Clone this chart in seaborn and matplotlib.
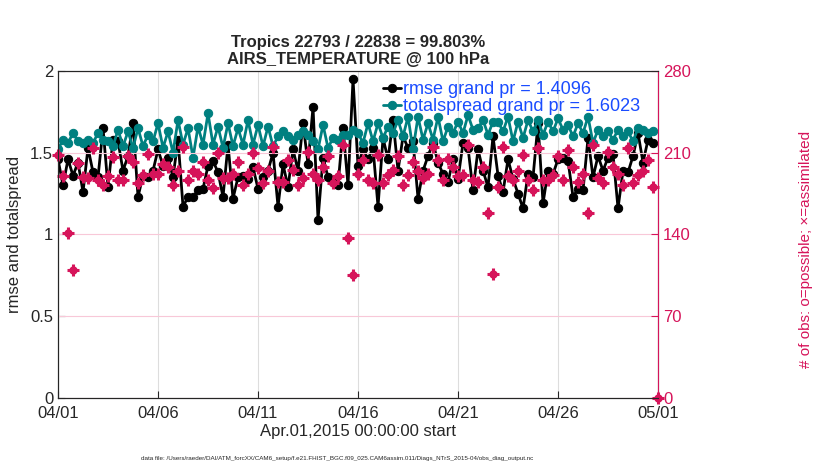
import numpy as np
import pandas as pd
import matplotlib
matplotlib.use('Agg')
import matplotlib.pyplot as plt
import matplotlib.dates as mdates
import seaborn as sns

# values, one per 6-hour bin (last bin is empty)
rmse = [1.46, 1.30, 1.46, 1.36, 1.44, 1.26, 1.53, 1.38, 1.35, 1.65, 1.29, 1.58, 1.57, 1.39, 1.48, 1.68, 1.23, 1.36, 1.35, 1.39,
        1.52, 1.42, 1.47, 1.35, 1.58, 1.17, 1.23, 1.23, 1.27, 1.28, 1.42, 1.45, 1.38, 1.23, 1.55, 1.22, 1.35, 1.36, 1.34, 1.41,
        1.28, 1.35, 1.39, 1.50, 1.17, 1.43, 1.29, 1.52, 1.39, 1.68, 1.43, 1.78, 1.09, 1.47, 1.35, 1.32, 1.30, 1.65, 1.30, 1.95,
        1.42, 1.52, 1.46, 1.53, 1.17, 1.59, 1.46, 1.70, 1.39, 1.60, 1.53, 1.57, 1.22, 1.39, 1.48, 1.56, 1.44, 1.37, 1.32, 1.46,
        1.34, 1.56, 1.53, 1.27, 1.52, 1.39, 1.29, 1.60, 1.36, 1.26, 1.46, 1.34, 1.25, 1.16, 1.37, 1.35, 1.68, 1.19, 1.39, 1.37,
        1.46, 1.47, 1.45, 1.23, 1.28, 1.27, 1.59, 1.35, 1.48, 1.39, 1.47, 1.49, 1.16, 1.39, 1.38, 1.48, 1.62, 1.44, 1.58, 1.56,
        np.nan]

spread = [1.52, 1.58, 1.56, 1.62, 1.57, 1.56, 1.58, 1.56, 1.62, 1.58, 1.57, 1.54, 1.64, 1.54, 1.63, 1.53, 1.65, 1.54, 1.61, 1.57,
          1.68, 1.53, 1.63, 1.50, 1.70, 1.55, 1.65, 1.47, 1.66, 1.55, 1.74, 1.55, 1.66, 1.53, 1.68, 1.54, 1.65, 1.55, 1.70, 1.55,
          1.67, 1.54, 1.66, 1.54, 1.60, 1.63, 1.60, 1.58, 1.61, 1.63, 1.61, 1.57, 1.52, 1.67, 1.53, 1.59, 1.58, 1.61, 1.61, 1.64,
          1.62, 1.56, 1.68, 1.57, 1.68, 1.59, 1.66, 1.62, 1.70, 1.60, 1.72, 1.52, 1.72, 1.58, 1.68, 1.58, 1.72, 1.57, 1.66, 1.62,
          1.69, 1.62, 1.73, 1.64, 1.65, 1.70, 1.61, 1.69, 1.69, 1.63, 1.72, 1.57, 1.69, 1.59, 1.70, 1.63, 1.70, 1.61, 1.69, 1.63,
          1.71, 1.64, 1.67, 1.60, 1.68, 1.62, 1.72, 1.56, 1.64, 1.60, 1.63, 1.58, 1.64, 1.60, 1.63, 1.57, 1.65, 1.64, 1.62, 1.63,
          np.nan]

nobs = [208, 190, 141, 110, 201, 189, 188, 214, 187, 182, 190, 206, 187, 187, 207, 202, 184, 191, 209, 192,
        192, 200, 198, 182, 194, 215, 187, 194, 192, 202, 187, 180, 210, 188, 188, 192, 202, 182, 192, 210,
        197, 184, 194, 215, 185, 185, 204, 195, 182, 188, 211, 192, 187, 198, 207, 184, 190, 217, 137, 105,
        192, 204, 187, 184, 208, 184, 191, 195, 207, 182, 191, 202, 194, 188, 192, 215, 204, 187, 205, 198,
        190, 191, 217, 187, 185, 198, 158, 106, 181, 215, 190, 187, 194, 208, 187, 178, 214, 187, 187, 191,
        207, 187, 212, 198, 185, 192, 158, 217, 188, 184, 211, 198, 192, 182, 214, 184, 191, 194, 204, 181,
        0]

times = pd.date_range('2015-04-01', periods=len(rmse), freq='6h')
df = pd.DataFrame({'time': times, 'rmse': rmse, 'spread': spread, 'nobs': nobs})

left_ticks = [0, 0.5, 1, 1.5, 2]
right_ticks = [0, 70, 140, 210, 280]
tick_dates = pd.date_range('2015-04-01', '2015-05-01', freq='5D')

pink = '#d6145a'
teal = '#008080'

sns.set_style('ticks')
plt.rcParams['font.family'] = ['Liberation Sans', 'DejaVu Sans']

fig = plt.figure(figsize=(8.3, 4.7), dpi=100)
ax = fig.add_axes([0.0699, 0.1532, 0.7229, 0.6958])
ax2 = ax.twinx()

sns.lineplot(data=df, x='time', y='rmse', ax=ax, color='k', lw=2, marker='o', ms=6,
             mec='k', mfc='k', label='rmse grand pr = 1.4096', legend=False)
sns.lineplot(data=df, x='time', y='spread', ax=ax, color=teal, lw=2, marker='o', ms=6,
             mec=teal, mfc=teal, label='totalspread grand pr = 1.6023', legend=False)

ax2.plot(df['time'], df['nobs'], ls='none', marker='o', ms=5, color=pink, mec=pink, clip_on=False)
ax2.plot(df['time'], df['nobs'], ls='none', marker='+', ms=8, mew=2.2, color=pink, clip_on=False)

ax.set_xlim(times[0], times[-1])
ax.set_ylim(0, 2)
ax.set_yticks(left_ticks)
ax.set_yticklabels(['0', '0.5', '1', '1.5', '2'])
ax2.set_ylim(0, 280)
ax2.set_yticks(right_ticks)

ax.set_xticks(tick_dates)
ax.xaxis.set_major_formatter(mdates.DateFormatter('%m/%d'))
ax.grid(axis='x', color='#dddddd', lw=0.8)
ax2.grid(axis='y', color='#f8c8d8', lw=0.8)

ax.tick_params(direction='in', labelsize=12, length=5, top=False)
ax.tick_params(axis='x', pad=6)
ax2.tick_params(direction='in', labelsize=12, length=5, colors=pink)
ax2.spines['right'].set_color(pink)
for s in ['top', 'left', 'bottom']:
    ax.spines[s].set_color('#222222')
    ax.spines[s].set_linewidth(0.8)
ax2.spines['right'].set_linewidth(0.8)

ax.set_xlabel('Apr.01,2015 00:00:00 start', fontsize=12, labelpad=2)
ax.set_ylabel('rmse and totalspread', fontsize=12, labelpad=6)
ax2.set_ylabel('# of obs: o=possible; \u00d7=assimilated', fontsize=11, color=pink)
ax2.yaxis.set_label_coords(1.235, 0.455)
ax.set_title('Tropics 22793 / 22838 = 99.803%\nAIRS_TEMPERATURE @ 100 hPa',
             fontsize=12, fontweight='bold', linespacing=1.2, pad=5)

handles, labels = ax.get_legend_handles_labels()
leg = ax2.legend(handles, labels, loc='upper left', bbox_to_anchor=(0.529, 0.99), frameon=False,
                 fontsize=13, labelcolor='#1a4cff', handlelength=1.0, handletextpad=0.1,
                 labelspacing=0.0, borderaxespad=0)

fig.text(0.406, 0.022, 'data file: /Users/raeder/DAI/ATM_forcXX/CAM6_setup/f.e21.FHIST_BGC.f09_025.CAM6assim.011/'
         'Diags_NTrS_2015-04/obs_diag_output.nc', fontsize=4.5, ha='center')

fig.savefig('out.png', dpi=100)
